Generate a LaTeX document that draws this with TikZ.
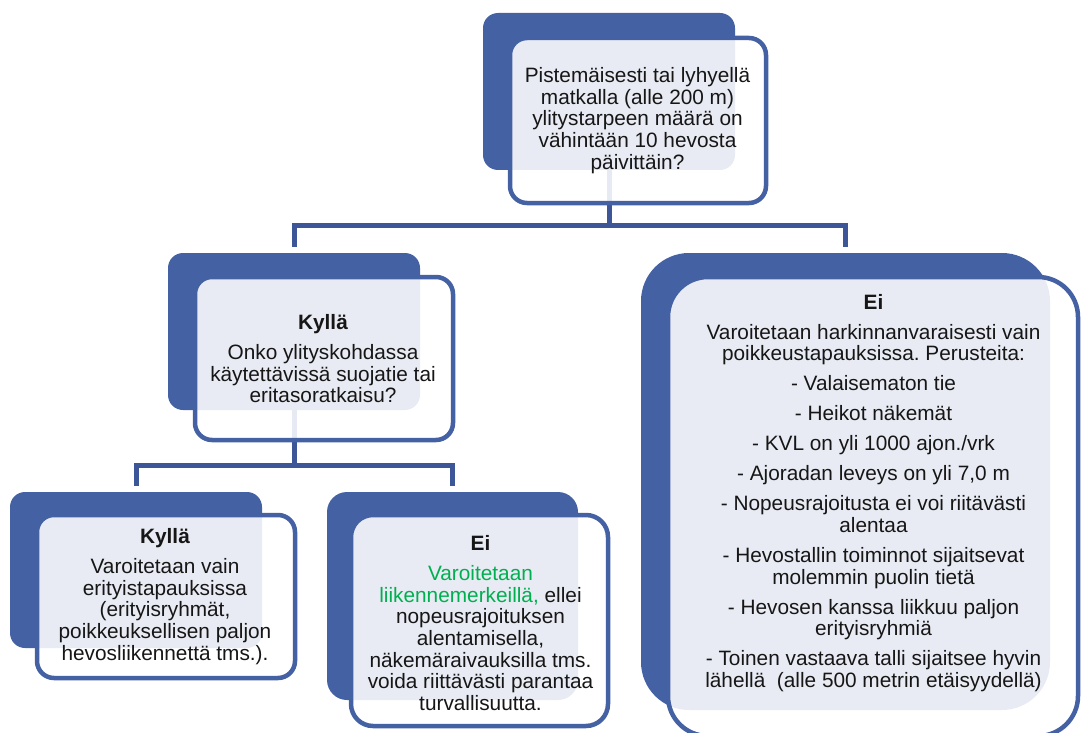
\documentclass[tikz,border=0pt]{standalone}
\usepackage{fontspec}
\setmainfont{Liberation Sans}
\frenchspacing
\definecolor{boxblue}{RGB}{68,97,164}
\definecolor{linkblue}{RGB}{60,86,152}
\definecolor{okgreen}{RGB}{0,176,80}
\definecolor{ink}{RGB}{22,22,22}
\begin{document}
\begin{tikzpicture}[x=1pt,y=-1pt,
  backbox/.style={rectangle, fill=boxblue, draw=none, inner sep=0pt},
  frontbox/.style={rectangle, draw=boxblue, line width=4.5pt, fill=white,
    fill opacity=0.88, draw opacity=1, inner sep=0pt},
  link/.style={draw=linkblue, line width=5pt, line join=miter},
  boxtext/.style={align=center, text=ink, inner sep=0pt,
    font=\fontsize{20.8pt}{21.7pt}\selectfont}]
\path[use as bounding box] (0,0) rectangle (1082,733);
\clip (0,0) rectangle (1082,733);

% back panels
\node[backbox, minimum width=252pt, minimum height=157pt, rounded corners=15pt] (qB) at (609,91.5) {};
\node[backbox, minimum width=252pt, minimum height=157pt, rounded corners=15pt] (yesB) at (294,331.5) {};
\node[backbox, minimum width=409pt, minimum height=457pt, rounded corners=48pt] (noB) at (845.5,481.5) {};
\node[backbox, minimum width=252pt, minimum height=156pt, rounded corners=15pt] (yyB) at (136,570) {};
\node[backbox, minimum width=251pt, minimum height=208pt, rounded corners=20pt] (ynB) at (452.5,596) {};

% hierarchy connectors
\coordinate (j1) at (609,225.5);
\coordinate (j2) at (294,465);
\draw[link] (qB.south) -- (j1);
\draw[link] ([yshift=6pt]yesB.north) |- (j1) -| ([yshift=6pt]noB.north);
\draw[link] (yesB.south) -- (j2);
\draw[link] ([yshift=6pt]yyB.north) |- (j2) -| ([yshift=6pt]ynB.north);

% front panels
\node[frontbox, minimum width=256pt, minimum height=165pt, rounded corners=17pt] (qF) at (638,120.5) {};
\node[frontbox, minimum width=258pt, minimum height=163pt, rounded corners=17pt] (yesF) at (324,358.5) {};
\node[frontbox, minimum width=410pt, minimum height=459pt, rounded corners=40pt] (noF) at (873,506.5) {};
\node[frontbox, minimum width=258pt, minimum height=163pt, rounded corners=17pt] (yyF) at (166,596.5) {};
\node[frontbox, minimum width=257pt, minimum height=211pt, rounded corners=22pt] (ynF) at (479.5,620.5) {};

% texts
\node[boxtext] (qT) at (637.5,120.5) {Pistemäisesti tai lyhyellä\\ matkalla (alle 200 m)\\ ylitystarpeen määrä on\\ vähintään 10 hevosta\\ päivittäin?};

\node[boxtext] (yesT) at (323,358.7) {\textbf{Kyllä}\\[8.3pt] Onko ylityskohdassa\\ käytettävissä suojatie tai\\ eritasoratkaisu?};

\node[boxtext] (noT) at (873.5,493) {\textbf{Ei}\\[8.3pt]
  Varoitetaan harkinnanvaraisesti vain\\ poikkeustapauksissa. Perusteita:\\[8.3pt]
  - Valaisematon tie\\[8.3pt]
  - Heikot näkemät\\[8.3pt]
  - KVL on yli 1000 ajon./vrk\\[8.3pt]
  - Ajoradan leveys on yli 7,0 m\\[8.3pt]
  - Nopeusrajoitusta ei voi riitävästi\\ alentaa\\[8.3pt]
  - Hevostallin toiminnot sijaitsevat\\ molemmin puolin tietä\\[8.3pt]
  - Hevosen kanssa liikkuu paljon\\ erityisryhmiä\\[8.3pt]
  - Toinen vastaava talli sijaitsee hyvin\\ lähellä\ \ (alle 500 metrin etäisyydellä)};

\node[boxtext] (yyT) at (165,596.5) {\textbf{Kyllä}\\[8.3pt] Varoitetaan vain\\ erityistapauksissa\\ (erityisryhmät,\\ poikkeuksellisen paljon\\ hevosliikennettä tms.).};

\node[boxtext] (ynT) at (480.5,623) {\textbf{Ei}\\[8.3pt] \textcolor{okgreen}{Varoitetaan}\\ \textcolor{okgreen}{liikennemerkeillä,} ellei\\ nopeusrajoituksen\\ alentamisella,\\ näkemäraivauksilla tms.\\ voida riittävästi parantaa\\ turvallisuutta.};
\end{tikzpicture}
\end{document}
